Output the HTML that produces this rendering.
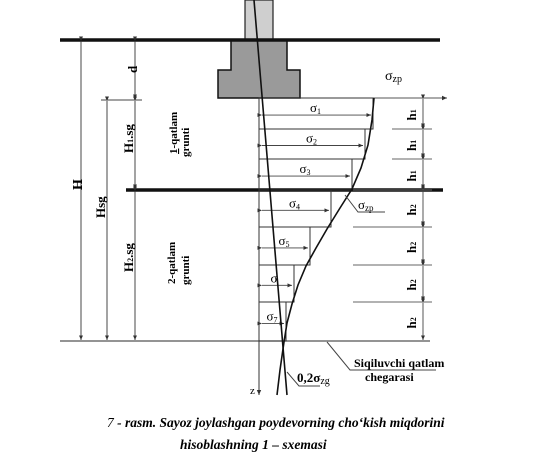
<!DOCTYPE html>
<html><head><meta charset="utf-8"><style>
html,body{margin:0;padding:0;background:#fff;}
svg{display:block;font-family:"Liberation Serif",serif;}
.cap{font-family:"Liberation Serif",serif;font-weight:bold;font-style:italic;font-size:13.5px;}
</style></head><body>
<svg width="546" height="460" viewBox="0 0 546 460">
<defs>
<marker id="ar" markerWidth="6" markerHeight="6" refX="5" refY="3" orient="auto"><path d="M0,0.8 L5,3 L0,5.2z" fill="#333"/></marker>
</defs>
<g id="base">
<rect x="245" y="0" width="28" height="40" fill="#cfcfcf" stroke="#222" stroke-width="1.2"/>
<polygon points="231,40 287,40 287,70 300,70 300,98 218,98 218,70 231,70" fill="#9a9a9a" stroke="#111" stroke-width="1.5"/>
<line x1="60" y1="40" x2="440" y2="40" stroke="#111" stroke-width="3.5"/>
<line x1="126" y1="190" x2="443" y2="190" stroke="#111" stroke-width="3.5"/>
<line x1="60" y1="341" x2="430" y2="341" stroke="#555" stroke-width="1.2"/>
<line x1="259" y1="98" x2="259" y2="395" stroke="#333" stroke-width="1" marker-end="url(#ar)"/>
<line x1="259" y1="98" x2="447" y2="98" stroke="#555" stroke-width="1" marker-end="url(#ar)"/>
<text x="385" y="80" font-size="14">σ<tspan font-size="10" dy="2">zp</tspan></text>
<text x="250" y="394" font-size="11">z</text>
</g>
<g id="steps"></g>
<g id="dims"></g>
<text transform="translate(82,190) rotate(-90)" font-size="14" font-weight="bold">H</text>
<text transform="translate(105,218) rotate(-90)" font-size="13" font-weight="bold">Hsg</text>
<text transform="translate(137,73) rotate(-90)" font-size="13" font-weight="bold">d</text>
<text transform="translate(133,153) rotate(-90)" font-size="13" font-weight="bold">H<tspan font-size="8">1</tspan>.sg</text>
<text transform="translate(133,272) rotate(-90)" font-size="13" font-weight="bold">H<tspan font-size="8">2</tspan>.sg</text>
<text transform="translate(177,154) rotate(-90)" font-size="11" font-weight="bold"><tspan text-decoration="underline">1</tspan>-qatlam</text>
<text transform="translate(189,157) rotate(-90)" font-size="11" font-weight="bold">grunti</text>
<text transform="translate(175,284) rotate(-90)" font-size="11" font-weight="bold">2-qatlam</text>
<text transform="translate(189,285) rotate(-90)" font-size="11" font-weight="bold">grunti</text>
<polyline points="374,98 372,120 368,145 361,168 352,189 340,208 327,229 316,248 306,266 298,285 292,304 287,323 284,342 280,370 277,395" fill="none" stroke="#111" stroke-width="1.6"/>
<line x1="254" y1="0" x2="287" y2="395" stroke="#111" stroke-width="1.6"/>
<polyline points="345,195 358,212 385,212" fill="none" stroke="#444" stroke-width="1"/>
<text x="358" y="209" font-size="13">σ<tspan font-size="9" dy="2">zp</tspan></text>
<polyline points="287,372 299,386 320,386" fill="none" stroke="#444" stroke-width="1"/>
<text x="297" y="382" font-size="13" font-weight="bold">0,2σ<tspan font-size="10" dy="2" font-weight="normal">zg</tspan></text>
<polyline points="327,342 350,370 436,370" fill="none" stroke="#444" stroke-width="1"/>
<text x="354" y="367" font-size="12" font-weight="bold">Siqiluvchi qatlam</text>
<text x="365" y="381" font-size="12" font-weight="bold">chegarasi</text>
<text class="cap" x="107" y="427"><tspan font-weight="normal">7</tspan> - rasm. Sayoz joylashgan poydevorning  cho‘kish miqdorini</text>
<text class="cap" x="180" y="449">hisoblashning 1 – sxemasi</text>
</svg>
<script>
var NS="http://www.w3.org/2000/svg";
var layerTops=[98,129,159,190,227,265,302];
var layerBots=[129,159,190,227,265,302,341];
var stressVals=[373,365,352,331,310,294,286];
var stressLabels=["σ1","σ2","σ3","σ4","σ5","σ","σ7"];
var hLabels=["h1","h1","h1","h2","h2","h2","h2"];
var dimX=[81,107,135,135,135];
var dimT=[40,100,40,100,190];
var dimB=[341,341,100,190,341];
var dimNames=['H','Hsg','d','H1sg','H2sg'];
function mk(tag,attrs,parent){var e=document.createElementNS(NS,tag);for(var k in attrs)e.setAttribute(k,attrs[k]);parent.appendChild(e);return e;}
var g=document.getElementById('steps');
for(var i=0;i<stressVals.length;i++){
 var t=layerTops[i],b=layerBots[i],x=stressVals[i];
 var r=mk('rect',{x:259,y:t,width:x-259,height:b-t,fill:'none',stroke:'#333','stroke-width':1},g);
 
 
 var ym=t+(b-t)*0.55;
 var a=mk('line',{x1:262,y1:ym,x2:x-2,y2:ym,stroke:'#444','stroke-width':0.9,'marker-start':'url(#ar)','marker-end':'url(#ar)'},g);
 
 
 var tx=mk('text',{x:(259+x)/2-6,y:ym-3,'font-size':13},g);
 
 
 tx.textContent=stressLabels[i].charAt(0);
 var sub=mk('tspan',{'font-size':8,dy:2},tx);sub.textContent=stressLabels[i].slice(1);
 var d=mk('line',{x1:423,y1:t+1,x2:423,y2:b-1,stroke:'#444','stroke-width':0.9,'marker-start':'url(#ar)','marker-end':'url(#ar)'},g);
 
 
 if(i>0){var tk=mk('line',{x1:i<3?392:353,y1:t,x2:432,y2:t,stroke:'#666','stroke-width':1},g);
 
 }
 var hl=mk('text',{transform:'translate(416,'+((t+b)/2+7)+') rotate(-90)','font-size':13,'font-weight':'bold'},g);
 
 
 hl.textContent='h';var s2=mk('tspan',{'font-size':8},hl);s2.textContent=hLabels[i].slice(1);
}
var dg=document.getElementById('dims');
for(var j=0;j<dimX.length;j++){
 var l=mk('line',{x1:dimX[j],y1:dimT[j]+1,x2:dimX[j],y2:dimB[j]-1,stroke:'#333','stroke-width':0.9,'marker-start':'url(#ar)','marker-end':'url(#ar)'},dg);
 
 
}
var tk2=mk('line',{x1:101,y1:100,x2:142,y2:100,stroke:'#444','stroke-width':1},dg);


</script>
</body></html>
